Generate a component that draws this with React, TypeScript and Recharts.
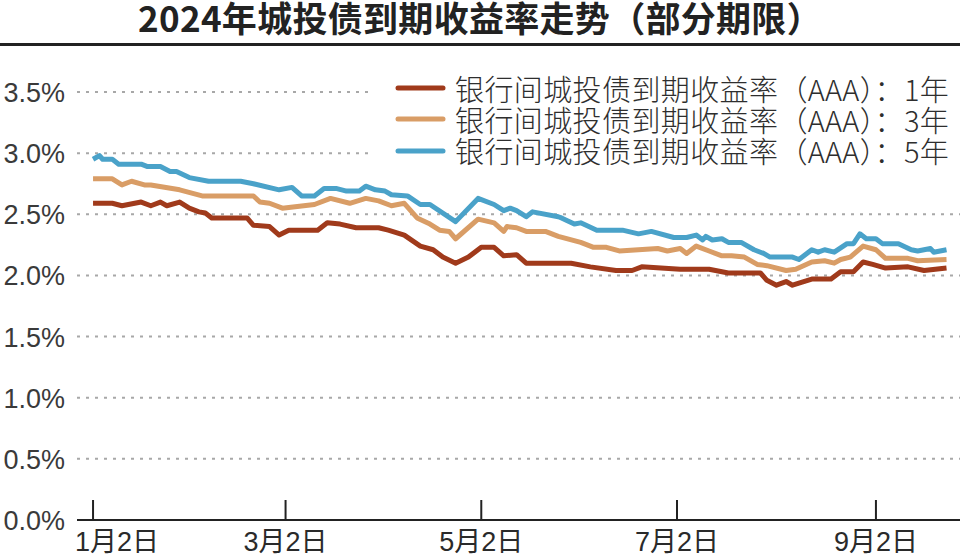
import React from "react";
import { CartesianGrid, Line, LineChart, XAxis, YAxis } from "recharts";

// Days counted from Jan 2, 2024 (calendar days), yields in %
const DAYS_1Y = [0, 6, 9, 15, 18, 21, 23, 27, 30, 33, 35, 37, 48, 50, 55, 58, 61, 70, 73, 77, 82, 89, 92, 97, 102, 106, 109, 113, 117, 121, 125, 128, 132, 135, 149, 155, 163, 168, 171, 177, 183, 192, 198, 208, 210, 213, 216, 218, 224, 230, 233, 237, 240, 243, 247, 254, 259, 266];
const YIELD_1Y = [2.59, 2.59, 2.57, 2.6, 2.57, 2.6, 2.57, 2.6, 2.55, 2.52, 2.51, 2.47, 2.47, 2.41, 2.4, 2.33, 2.37, 2.37, 2.43, 2.42, 2.39, 2.39, 2.37, 2.33, 2.24, 2.21, 2.15, 2.1, 2.15, 2.23, 2.23, 2.16, 2.17, 2.1, 2.1, 2.07, 2.04, 2.04, 2.07, 2.06, 2.05, 2.05, 2.02, 2.02, 1.96, 1.92, 1.95, 1.92, 1.97, 1.97, 2.03, 2.03, 2.11, 2.09, 2.06, 2.07, 2.04, 2.06];

const DAYS_3Y = [0, 6, 9, 12, 16, 18, 27, 34, 50, 52, 55, 59, 69, 74, 80, 85, 89, 93, 97, 101, 105, 108, 111, 113, 120, 125, 128, 129, 132, 135, 141, 145, 152, 156, 160, 164, 170, 176, 179, 183, 185, 188, 192, 196, 199, 203, 207, 210, 216, 219, 224, 228, 231, 233, 236, 240, 244, 247, 254, 257, 266];
const YIELD_3Y = [2.79, 2.79, 2.74, 2.77, 2.74, 2.74, 2.7, 2.65, 2.65, 2.6, 2.59, 2.55, 2.58, 2.63, 2.59, 2.63, 2.61, 2.57, 2.59, 2.47, 2.42, 2.37, 2.36, 2.3, 2.46, 2.43, 2.36, 2.4, 2.39, 2.36, 2.36, 2.32, 2.27, 2.23, 2.23, 2.2, 2.21, 2.22, 2.2, 2.22, 2.18, 2.24, 2.2, 2.16, 2.16, 2.15, 2.09, 2.08, 2.04, 2.05, 2.11, 2.12, 2.1, 2.13, 2.15, 2.24, 2.21, 2.14, 2.14, 2.12, 2.13];

const DAYS_5Y = [0, 2, 3, 6, 8, 15, 17, 21, 24, 26, 30, 36, 46, 50, 58, 62, 65, 69, 72, 76, 79, 83, 85, 88, 91, 93, 98, 102, 105, 113, 120, 125, 128, 130, 132, 135, 137, 145, 146, 150, 152, 157, 165, 170, 174, 181, 185, 188, 190, 191, 193, 196, 198, 202, 206, 209, 211, 218, 220, 224, 226, 228, 231, 235, 237, 239, 241, 244, 246, 251, 255, 257, 261, 262, 266];
const YIELD_5Y = [2.95, 2.98, 2.95, 2.95, 2.91, 2.91, 2.89, 2.89, 2.85, 2.85, 2.8, 2.77, 2.77, 2.75, 2.7, 2.72, 2.65, 2.65, 2.71, 2.71, 2.69, 2.69, 2.73, 2.7, 2.69, 2.66, 2.65, 2.58, 2.58, 2.44, 2.63, 2.58, 2.53, 2.55, 2.53, 2.48, 2.52, 2.48, 2.47, 2.42, 2.43, 2.37, 2.37, 2.34, 2.36, 2.31, 2.31, 2.33, 2.29, 2.32, 2.29, 2.3, 2.27, 2.27, 2.21, 2.18, 2.15, 2.15, 2.13, 2.21, 2.19, 2.21, 2.19, 2.26, 2.26, 2.34, 2.3, 2.3, 2.26, 2.26, 2.21, 2.2, 2.22, 2.19, 2.21];

const X_TICKS = [0, 60, 121, 182, 244];
const X_TICK_LABELS = ["1月2日", "3月2日", "5月2日", "7月2日", "9月2日"];
const Y_TICKS = [0, 0.5, 1, 1.5, 2, 2.5, 3, 3.5];

const TITLE = "2024年城投债到期收益率走势（部分期限）";
const SERIES_NAMES = [
  "银行间城投债到期收益率（AAA）：1年",
  "银行间城投债到期收益率（AAA）：3年",
  "银行间城投债到期收益率（AAA）：5年",
];
const SERIES_COLORS = ["#a03a1b", "#d99d66", "#4aa2c9"];

const toPoints = (days: number[], values: number[]) =>
  days.map((day, i) => ({ day, value: values[i] }));

const SERIES = [
  toPoints(DAYS_1Y, YIELD_1Y),
  toPoints(DAYS_3Y, YIELD_3Y),
  toPoints(DAYS_5Y, YIELD_5Y),
];

const NUM_FONT = "'Liberation Sans', Arial, 'Noto Sans CJK SC', sans-serif";
const CJK_FONT = "'Noto Sans CJK SC', 'Liberation Sans', sans-serif";

function YTick({ y, payload }: any) {
  return (
    <text
      x={65}
      y={y}
      dy={10}
      textAnchor="end"
      fontFamily={NUM_FONT}
      fontSize={27}
      fill="#3a3a3a"
    >
      {`${Number(payload.value).toFixed(1)}%`}
    </text>
  );
}

function XTick({ x, y, payload, index }: any) {
  const i = X_TICKS.indexOf(payload.value);
  const label = X_TICK_LABELS[i] ?? "";
  const first = index === 0;
  return (
    <g>
      <line x1={x} y1={y} x2={x} y2={y - 20} stroke="#222" strokeWidth={2} />
      <text
        x={first ? 75 : x}
        y={y + 31}
        textAnchor={first ? "start" : "middle"}
        fontFamily={NUM_FONT}
        fontSize={27}
        fill="#2a2a2a"
      >
        {label}
      </text>
    </g>
  );
}

export default function App() {
  return (
    <div
      style={{
        position: "absolute",
        left: 0,
        top: 0,
        width: 960,
        height: 556,
        background: "#fff",
        overflow: "hidden",
      }}
    >
      <LineChart
        width={960}
        height={556}
        margin={{ top: 92, right: 0, bottom: 0, left: 0 }}
      >
        <CartesianGrid
          vertical={false}
          stroke="#a8a8a8"
          strokeWidth={2}
          strokeDasharray="3 6"
        />
        <XAxis
          type="number"
          dataKey="day"
          domain={[-5, 270.2]}
          ticks={X_TICKS}
          allowDataOverflow
          height={36}
          tickSize={0}
          tickMargin={0}
          tickLine={false}
          axisLine={{ stroke: "#222", strokeWidth: 2 }}
          tick={<XTick />}
          interval={0}
        />
        <YAxis
          type="number"
          domain={[0, 3.5]}
          ticks={Y_TICKS}
          width={77}
          axisLine={false}
          tickLine={false}
          tick={<YTick />}
          interval={0}
        />
        {SERIES.map((points, i) => (
          <Line
            key={SERIES_NAMES[i]}
            data={points}
            dataKey="value"
            type="linear"
            stroke={SERIES_COLORS[i]}
            strokeWidth={5}
            strokeLinejoin="round"
            dot={false}
            activeDot={false}
            isAnimationActive={false}
          />
        ))}
      </LineChart>

      {/* title + rule */}
      <div
        style={{
          position: "absolute",
          left: 0,
          top: 0,
          width: 960,
          textAlign: "center",
          fontFamily: CJK_FONT,
          fontWeight: 700,
          fontSize: 35,
          lineHeight: "34px",
          color: "#222",
          whiteSpace: "nowrap",
          letterSpacing: 0.3,
        }}
      >
        {TITLE}
      </div>
      <div
        style={{
          position: "absolute",
          left: 0,
          top: 43,
          width: 960,
          height: 3,
          background: "#222",
        }}
      />

      {/* legend */}
      <div
        style={{
          position: "absolute",
          left: 370,
          top: 72,
          width: 590,
          height: 94,
          background: "#fff",
        }}
      >
        {SERIES_NAMES.map((name, i) => (
          <div
            key={name}
            style={{
              position: "absolute",
              left: 0,
              top: i * 31.3 + 1,
              height: 30,
              display: "flex",
              alignItems: "center",
              whiteSpace: "nowrap",
            }}
          >
            <svg width={85} height={30} style={{ flex: "none" }}>
              <line
                x1={28}
                y1={15}
                x2={73}
                y2={15}
                stroke={SERIES_COLORS[i]}
                strokeWidth={5}
                strokeLinecap="round"
              />
            </svg>
            <span
              style={{
                fontFamily: CJK_FONT,
                fontWeight: 300,
                fontSize: 29,
                lineHeight: "29px",
                letterSpacing: 0.4,
                color: "#2e2e2e",
              }}
            >
              {name}
            </span>
          </div>
        ))}
      </div>
    </div>
  );
}
